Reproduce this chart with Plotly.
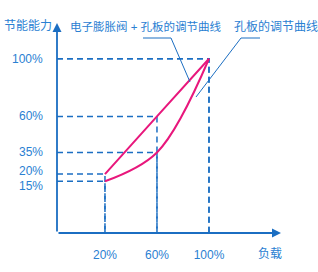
import plotly.graph_objects as go

# ---- data ----
load = [20, 60, 100]                       # 负载 (%)
curve_combo = [20, 60, 100]                # 电子膨胀阀 + 孔板的调节曲线
curve_orifice = [15, 35, 100]              # 孔板的调节曲线
x_ticks = [20, 60, 100]
x_tick_text = ["20%", "60%", "100%"]
y_ticks = [15, 20, 35, 60, 100]
y_tick_text = ["15%", "20%", "35%", "60%", "100%"]

W, H = 318, 272
X_MIN, X_MAX = -16.9, 155.4
Y_MIN, Y_MAX = -20.9, 124.8

LINE_BLUE = "#1b6ec2"
TEXT_BLUE = "#2a80d2"
MAGENTA = "#e8177c"
FONT = "Liberation Sans, Noto Sans CJK SC, sans-serif"

fig = go.Figure()

# dashed guide lines from every curve point to both axes
for series in (curve_combo, curve_orifice):
    for xv, yv in zip(load, series):
        fig.add_trace(go.Scatter(
            x=[X_MIN, xv, xv], y=[yv, yv, Y_MIN], mode="lines",
            line=dict(color=LINE_BLUE, width=1.5, dash="6px,4px"),
            hoverinfo="skip", showlegend=False))

# curves
for series in (curve_combo, curve_orifice):
    fig.add_trace(go.Scatter(
        x=load, y=series, mode="lines",
        line=dict(color=MAGENTA, width=2, shape="spline", smoothing=1),
        hoverinfo="skip", showlegend=False))

def px(x):
    return x / W

def py(y):
    return 1 - y / H

shapes = [
    # leader for 电子膨胀阀 + 孔板的调节曲线
    dict(type="line", xref="paper", yref="paper", x0=px(143), y0=py(38), x1=px(171), y1=py(38)),
    dict(type="line", xref="paper", yref="paper", x0=px(171), y0=py(38), x1=px(190), y1=py(82)),
    # leader for 孔板的调节曲线
    dict(type="line", xref="paper", yref="paper", x0=px(241), y0=py(38), x1=px(260), y1=py(38)),
    dict(type="line", xref="paper", yref="paper", x0=px(241), y0=py(38), x1=px(196), y1=py(97)),
]
for s in shapes:
    s["line"] = dict(color=LINE_BLUE, width=1)

annotations = [
    # axis arrows
    dict(x=X_MIN, y=Y_MAX, xref="x", yref="y", ax=0, ay=210, showarrow=True,
         arrowhead=2, arrowsize=1, arrowwidth=1.8, arrowcolor=LINE_BLUE, text="", standoff=0),
    dict(x=X_MAX, y=Y_MIN, xref="x", yref="y", ax=-224, ay=0, showarrow=True,
         arrowhead=2, arrowsize=1, arrowwidth=1.8, arrowcolor=LINE_BLUE, text="", standoff=0),
    # texts
    dict(x=px(28), y=py(26), xref="paper", yref="paper", text="节能能力", showarrow=False,
         font=dict(size=12, color=TEXT_BLUE, family=FONT), xanchor="center", yanchor="middle"),
    dict(x=px(270), y=py(254), xref="paper", yref="paper", text="负载", showarrow=False,
         font=dict(size=12, color=TEXT_BLUE, family=FONT), xanchor="center", yanchor="middle"),
    dict(x=px(146), y=py(26), xref="paper", yref="paper", text="电子膨胀阀 + 孔板的调节曲线", showarrow=False,
         font=dict(size=11.5, color=TEXT_BLUE, family=FONT), xanchor="center", yanchor="middle"),
    dict(x=px(276), y=py(26), xref="paper", yref="paper", text="孔板的调节曲线", showarrow=False,
         font=dict(size=12, color=TEXT_BLUE, family=FONT), xanchor="center", yanchor="middle"),
]

# y tick labels (schematic axis: the two lowest labels are nudged apart)
label_nudge = {15: -5, 20: 3}
for v, t in zip(y_ticks, y_tick_text):
    annotations.append(dict(
        x=px(45), y=v, xref="paper", yref="y", text=t, showarrow=False,
        xanchor="right", yanchor="middle", yshift=label_nudge.get(v, 0),
        font=dict(size=12, color=TEXT_BLUE, family=FONT)))

fig.update_layout(
    width=W, height=H,
    margin=dict(l=0, r=0, t=0, b=0),
    paper_bgcolor="white", plot_bgcolor="white",
    shapes=shapes, annotations=annotations,
    xaxis=dict(domain=[57 / W, 281 / W], range=[X_MIN, X_MAX], showgrid=False, zeroline=False,
               showline=False, tickvals=x_ticks, ticktext=x_tick_text, ticks="",
               ticklabelstandoff=13, tickfont=dict(size=12, color=TEXT_BLUE, family=FONT)),
    yaxis=dict(domain=[(H - 233) / H, (H - 23) / H], range=[Y_MIN, Y_MAX], showgrid=False, zeroline=False,
               showline=False, showticklabels=False),
)

fig.write_html("out.html")
